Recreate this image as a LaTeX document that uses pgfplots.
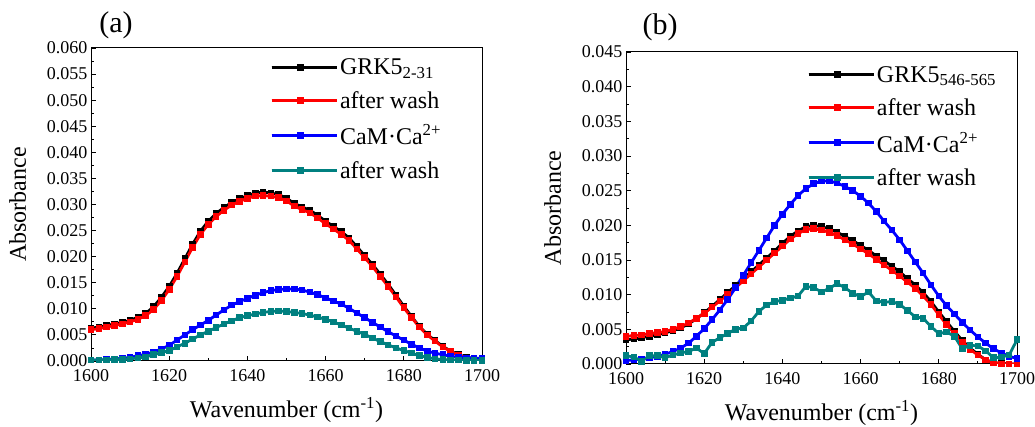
\documentclass[border=0pt]{standalone}
\usepackage{fontspec}
\setmainfont{Liberation Serif}
\usepackage{pgfplots}
\usepackage{pgfplotstable}
\pgfplotsset{compat=1.18}
\definecolor{dcyan}{RGB}{0,128,128}

% panel (a): x, GRK5 2-31, after wash, CaM.Ca2+, after wash
\pgfplotstableread{
x k r b t
1600 .0063 .0060 .0002 .0002
1602 .0065 .0062 .0002 .0002
1604 .0068 .0065 .0003 .0002
1606 .0071 .0068 .0004 .0003
1608 .0074 .0071 .0005 .0003
1610 .0078 .0075 .0007 .0004
1612 .0084 .0080 .0010 .0006
1614 .0091 .0087 .0013 .0008
1616 .0104 .0099 .0017 .0012
1618 .0122 .0116 .0023 .0016
1620 .0143 .0137 .0030 .0020
1622 .0168 .0162 .0040 .0027
1624 .0196 .0190 .0050 .0034
1626 .0224 .0218 .0060 .0042
1628 .0249 .0243 .0069 .0050
1630 .0268 .0262 .0078 .0057
1632 .0283 .0277 .0088 .0064
1634 .0294 .0289 .0098 .0071
1636 .0304 .0299 .0107 .0077
1638 .0311 .0306 .0114 .0083
1640 .0317 .0312 .0120 .0087
1642 .0322 .0316 .0126 .0090
1644 .0324 .0317 .0131 .0093
1646 .0322 .0316 .0135 .0095
1648 .0319 .0313 .0137 .0096
1650 .0312 .0307 .0138 .0095
1652 .0302 .0297 .0138 .0093
1654 .0295 .0290 .0136 .0091
1656 .0289 .0284 .0132 .0088
1658 .0279 .0274 .0127 .0084
1660 .0268 .0263 .0121 .0080
1662 .0258 .0253 .0115 .0075
1664 .0248 .0243 .0109 .0069
1666 .0236 .0231 .0101 .0063
1668 .0219 .0215 .0092 .0057
1670 .0202 .0198 .0083 .0051
1672 .0185 .0181 .0074 .0044
1674 .0166 .0162 .0065 .0037
1676 .0147 .0143 .0056 .0031
1678 .0126 .0123 .0048 .0025
1680 .0105 .0102 .0040 .0020
1682 .0085 .0083 .0032 .0015
1684 .0066 .0065 .0025 .0010
1686 .0051 .0050 .0019 .0007
1688 .0039 .0038 .0015 .0004
1690 .0028 .0027 .0012 .0003
1692 .0019 .0018 .0009 .0002
1694 .0012 .0011 .0007 .0002
1696 .0007 .0006 .0006 .0001
1698 .0005 .0004 .0005 .0001
1700 .0004 .0003 .0005 .0001
}\tabA

% panel (b): x, GRK5 546-565, after wash, CaM.Ca2+, after wash
\pgfplotstableread{
x k r b t
1600 .0035 .0040 .0005 .0012
1602 .0036 .0041 .0006 .0010
1604 .0038 .0042 .0007 .0004
1606 .0040 .0044 .0009 .0012
1608 .0042 .0045 .0011 .0012
1610 .0045 .0047 .0014 .0009
1612 .0048 .0050 .0018 .0013
1614 .0052 .0054 .0023 .0016
1616 .0058 .0059 .0030 .0018
1618 .0065 .0066 .0040 .0023
1620 .0074 .0073 .0051 .0015
1622 .0083 .0082 .0064 .0031
1624 .0093 .0091 .0078 .0038
1626 .0103 .0101 .0093 .0044
1628 .0113 .0110 .0110 .0050
1630 .0123 .0120 .0128 .0052
1632 .0133 .0130 .0146 .0062
1634 .0143 .0140 .0164 .0076
1636 .0153 .0150 .0182 .0085
1638 .0163 .0160 .0200 .0090
1640 .0174 .0170 .0216 .0092
1642 .0184 .0180 .0230 .0095
1644 .0192 .0188 .0243 .0098
1646 .0198 .0194 .0253 .0112
1648 .0200 .0195 .0260 .0110
1650 .0198 .0193 .0264 .0104
1652 .0195 .0190 .0264 .0109
1654 .0190 .0185 .0261 .0116
1656 .0184 .0179 .0256 .0110
1658 .0178 .0173 .0250 .0102
1660 .0171 .0166 .0242 .0097
1662 .0164 .0159 .0232 .0104
1664 .0156 .0151 .0220 .0091
1666 .0149 .0143 .0206 .0089
1668 .0141 .0135 .0193 .0090
1670 .0133 .0127 .0179 .0086
1672 .0123 .0118 .0163 .0077
1674 .0114 .0109 .0147 .0068
1676 .0103 .0098 .0131 .0066
1678 .0090 .0086 .0114 .0054
1680 .0075 .0071 .0098 .0044
1682 .0061 .0057 .0084 .0046
1684 .0047 .0044 .0072 .0040
1686 .0034 .0032 .0060 .0022
1688 .0023 .0021 .0049 .0027
1690 .0014 .0013 .0039 .0026
1692 .0006 .0006 .0030 .0019
1694 .0002 .0002 .0022 .0009
1696 .0001 .0000 .0016 .0010
1698 .0000 .0000 .0011 .0013
1700 .0000 .0000 .0008 .0035
}\tabB

\pgfplotsset{
  spec/.style={
    scale only axis,
    width=391pt,
    xmin=1600, xmax=1700, ymin=0,
    xtick distance=20, minor x tick num=1,
    ytick distance=0.005, minor y tick num=1,
    scaled y ticks=false,
    tick align=inside,
    xtick pos=bottom, ytick pos=left,
    major tick length=5pt, minor tick length=3pt,
    axis line style={line width=1pt},
    every tick/.style={black, line width=0.9pt},
    tick label style={font=\fontsize{18}{20}\selectfont},
    /pgf/number format/assume math mode=true,
    yticklabel style={/pgf/number format/fixed,
      /pgf/number format/fixed zerofill,
      /pgf/number format/precision=3},
    xticklabel style={/pgf/number format/1000 sep={}, yshift=-5pt},
    label style={font=\fontsize{24}{27}\selectfont},
    xlabel={Wavenumber (cm\textsuperscript{-1})},
    ylabel={Absorbance},
    xlabel style={yshift=-9pt},
    ylabel style={yshift=14pt},
    legend cell align=left,
    legend style={draw=none, fill=none, font=\fontsize{24}{26}\selectfont,
      row sep=11pt, inner sep=1pt},
    legend image code/.code={
      \path (0pt,0pt) -- (65pt,0pt);
      \draw[#1, line width=3pt, mark repeat=2, mark phase=2]
        plot coordinates {(0pt,0pt) (29pt,0pt) (58pt,0pt)};},
    every axis plot/.append style={line width=2.8pt, mark=square*,
      mark size=1.9pt, mark options={solid}},
  },
}

\begin{document}
\begin{tikzpicture}
\useasboundingbox (0,0) rectangle (1035pt,427pt);

\begin{axis}[spec, height=313pt, ymax=0.06,
  at={(91pt,66pt)}, anchor=south west,
  legend style={at={(0.455,0.975)}, anchor=north west}]
\addplot[black] table[x=x, y=k] {\tabA};
\addlegendentry{GRK5\textsubscript{2-31}}
\addplot[red] table[x=x, y=r] {\tabA};
\addlegendentry{after wash}
\addplot[blue] table[x=x, y=b] {\tabA};
\addlegendentry{CaM·Ca\textsuperscript{2+}}
\addplot[dcyan] table[x=x, y=t] {\tabA};
\addlegendentry{after wash}
\end{axis}

\begin{axis}[spec, height=312pt, ymax=0.045,
  at={(626pt,63pt)}, anchor=south west,
  legend style={at={(0.46,0.965)}, anchor=north west}]
\addplot[black] table[x=x, y=k] {\tabB};
\addlegendentry{GRK5\textsubscript{546-565}}
\addplot[red] table[x=x, y=r] {\tabB};
\addlegendentry{after wash}
\addplot[blue] table[x=x, y=b] {\tabB};
\addlegendentry{CaM·Ca\textsuperscript{2+}}
\addplot[dcyan] table[x=x, y=t] {\tabB};
\addlegendentry{after wash}
\end{axis}

\node[font=\fontsize{30}{33}\selectfont] at (116pt,402pt) {(a)};
\node[font=\fontsize{30}{33}\selectfont] at (660pt,400pt) {(b)};
\end{tikzpicture}
\end{document}
